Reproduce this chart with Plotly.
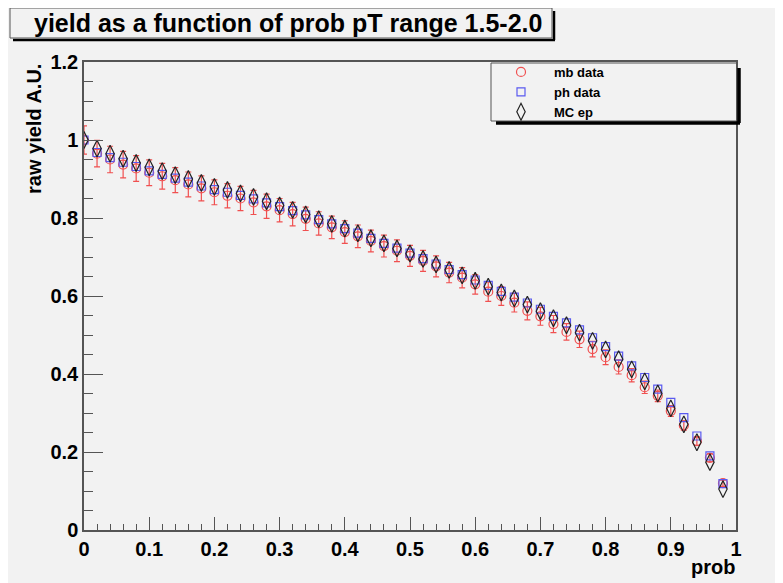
import plotly.graph_objects as go

prob = [0.00, 0.02, 0.04, 0.06, 0.08, 0.10, 0.12, 0.14, 0.16, 0.18,
        0.20, 0.22, 0.24, 0.26, 0.28, 0.30, 0.32, 0.34, 0.36, 0.38,
        0.40, 0.42, 0.44, 0.46, 0.48, 0.50, 0.52, 0.54, 0.56, 0.58,
        0.60, 0.62, 0.64, 0.66, 0.68, 0.70, 0.72, 0.74, 0.76, 0.78,
        0.80, 0.82, 0.84, 0.86, 0.88, 0.90, 0.92, 0.94, 0.96, 0.98]

mb_data = [1.000, 0.965, 0.950, 0.937, 0.927, 0.916, 0.907, 0.897, 0.886, 0.876,
           0.866, 0.857, 0.850, 0.840, 0.830, 0.820, 0.810, 0.798, 0.786, 0.776,
           0.764, 0.753, 0.741, 0.728, 0.716, 0.703, 0.690, 0.676, 0.660, 0.647,
           0.630, 0.611, 0.600, 0.583, 0.562, 0.548, 0.528, 0.508, 0.489, 0.464,
           0.443, 0.418, 0.397, 0.366, 0.344, 0.305, 0.268, 0.228, 0.185, 0.120]

mb_err = [0.036, 0.034, 0.034, 0.034, 0.033, 0.033, 0.033, 0.032, 0.032, 0.032,
          0.032, 0.031, 0.031, 0.031, 0.031, 0.030, 0.030, 0.030, 0.030, 0.029,
          0.029, 0.029, 0.028, 0.028, 0.028, 0.027, 0.027, 0.027, 0.026, 0.026,
          0.025, 0.025, 0.024, 0.024, 0.023, 0.023, 0.022, 0.021, 0.021, 0.020,
          0.019, 0.018, 0.017, 0.016, 0.015, 0.014, 0.012, 0.011, 0.010, 0.008]

ph_data = [1.000, 0.968, 0.955, 0.943, 0.932, 0.921, 0.912, 0.902, 0.892, 0.882,
           0.873, 0.866, 0.858, 0.849, 0.839, 0.829, 0.819, 0.808, 0.796, 0.785,
           0.773, 0.761, 0.748, 0.735, 0.723, 0.710, 0.696, 0.682, 0.668, 0.655,
           0.641, 0.627, 0.612, 0.597, 0.582, 0.566, 0.548, 0.531, 0.513, 0.493,
           0.470, 0.446, 0.421, 0.391, 0.361, 0.327, 0.288, 0.241, 0.190, 0.119]

mc_ep = [1.000, 0.978, 0.965, 0.952, 0.941, 0.930, 0.920, 0.910, 0.900, 0.890,
         0.880, 0.872, 0.863, 0.854, 0.843, 0.832, 0.821, 0.809, 0.797, 0.785,
         0.773, 0.761, 0.748, 0.735, 0.722, 0.709, 0.695, 0.681, 0.667, 0.653,
         0.639, 0.624, 0.609, 0.594, 0.578, 0.561, 0.543, 0.525, 0.506, 0.485,
         0.463, 0.438, 0.412, 0.381, 0.350, 0.312, 0.271, 0.225, 0.174, 0.105]

x_ticks = [0, 0.1, 0.2, 0.3, 0.4, 0.5, 0.6, 0.7, 0.8, 0.9, 1]
x_tick_labels = ["0", "0.1", "0.2", "0.3", "0.4", "0.5", "0.6", "0.7", "0.8", "0.9", "1"]
y_ticks = [0, 0.2, 0.4, 0.6, 0.8, 1.0, 1.2]
y_tick_labels = ["0", "0.2", "0.4", "0.6", "0.8", "1", "1.2"]

title_text = "yield as a function of prob pT range 1.5-2.0"
x_title = "prob"
y_title = "raw yield A.U."

BG = "#f2f2f2"
RED = "#f05050"
BLUE = "#5a5af0"
AXC = "#555555"
FONT = "Liberation Sans, Arial, Helvetica, sans-serif"

# page has an 8px body margin; figure is sized to fit the window
OFF = 8
W, H = 783 - OFF, 583 - OFF
L, T = 84 - OFF, 62 - OFF
R = W - (736 - OFF)
B = H - (530 - OFF)
pw, phh = W - L - R, H - T - B


def px(xp):
    """page x pixel -> paper coordinate"""
    return (xp - OFF - L) / pw


def py(yp):
    """page y pixel -> paper coordinate"""
    return (H - B - (yp - OFF)) / phh


fig = go.Figure()
fig.add_trace(go.Scatter(
    x=prob, y=mb_data, mode="markers", name="mb data",
    marker=dict(symbol="circle-open", size=9, color=RED, line=dict(width=1.2)),
    error_y=dict(type="data", array=mb_err, color=RED, thickness=1.2, width=3),
))
fig.add_trace(go.Scatter(
    x=prob, y=ph_data, mode="markers", name="ph data",
    marker=dict(symbol="square-open", size=8, color=BLUE, line=dict(width=1.2)),
))
fig.add_trace(go.Scatter(
    x=prob, y=mc_ep, mode="markers", name="MC ep",
    marker=dict(symbol="diamond-tall-open", size=12, color="#222222", line=dict(width=1.2)),
))

axis_common = dict(
    showgrid=False, zeroline=False, showline=True, linecolor=AXC, linewidth=1.5,
    mirror=True, ticks="inside", tickcolor=AXC, tickwidth=1,
    tickfont=dict(family=FONT, size=20, color="black", weight="bold"),
)

fig.update_xaxes(
    range=[0, 1], tickvals=x_ticks, ticktext=x_tick_labels, ticklen=13,
    minor=dict(ticks="inside", dtick=0.02, ticklen=6, tickcolor=AXC, tick0=0),
    **axis_common,
)
fig.update_yaxes(
    range=[0, 1.2], tickvals=y_ticks, ticktext=y_tick_labels, ticklen=19,
    minor=dict(ticks="inside", dtick=0.05, ticklen=9, tickcolor=AXC, tick0=0),
    **axis_common,
)

shapes = [
    # title shadow
    dict(type="line", xref="paper", yref="paper", x0=px(13), x1=px(555), y0=py(40), y1=py(40),
         line=dict(color="black", width=2.5)),
    dict(type="line", xref="paper", yref="paper", x0=px(554), x1=px(554), y0=py(11), y1=py(40),
         line=dict(color="black", width=2.5)),
    # title box
    dict(type="rect", xref="paper", yref="paper", x0=px(10), x1=px(552), y0=py(38), y1=py(8),
         line=dict(color=AXC, width=1), fillcolor=BG),
    # legend shadow
    dict(type="line", xref="paper", yref="paper", x0=px(496), x1=px(740), y0=py(123), y1=py(123),
         line=dict(color="black", width=3.5)),
    dict(type="line", xref="paper", yref="paper", x0=px(739), x1=px(739), y0=py(68), y1=py(123),
         line=dict(color="black", width=3.5)),
    # legend box
    dict(type="rect", xref="paper", yref="paper", x0=px(491), x1=px(737), y0=py(121), y1=py(63),
         line=dict(color=AXC, width=1), fillcolor=BG, layer="below"),
]

fig.update_layout(
    width=W, height=H,
    paper_bgcolor=BG, plot_bgcolor=BG,
    margin=dict(l=L, r=R, t=T, b=B, pad=0),
    showlegend=True,
    legend=dict(
        x=px(488), y=py(57), xanchor="left", yanchor="top",
        bgcolor="rgba(0,0,0,0)", borderwidth=0,
        font=dict(family=FONT, size=13, color="black", weight="bold"),
        tracegroupgap=0, itemsizing="trace", itemwidth=56,
    ),
    shapes=shapes,
)

fig.add_annotation(
    text=title_text, xref="paper", yref="paper", x=px(288), y=py(23),
    xanchor="center", yanchor="middle", showarrow=False,
    font=dict(family=FONT, size=25, color="black", weight="bold"),
)
fig.add_annotation(
    text=y_title, xref="paper", yref="paper", x=px(34), y=py(62),
    xanchor="center", yanchor="top", textangle=-90, showarrow=False,
    font=dict(family=FONT, size=20, color="black", weight="bold"),
)
fig.add_annotation(
    text=x_title, xref="paper", yref="paper", x=px(737), y=py(580),
    xanchor="right", yanchor="bottom", showarrow=False,
    font=dict(family=FONT, size=20, color="black", weight="bold"),
)

fig.write_html("out.html")
